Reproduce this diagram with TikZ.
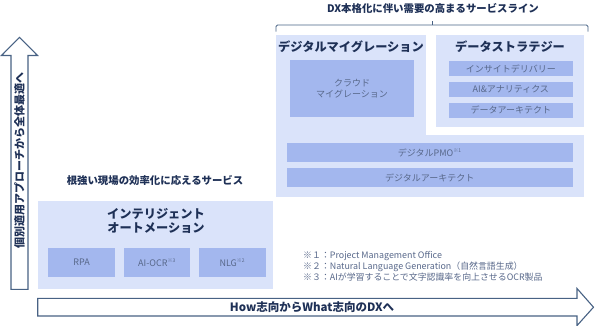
\documentclass[tikz,border=0pt]{standalone}
\usepackage{fontspec}
\setmainfont{Noto Sans CJK JP}
\definecolor{PanelBlue}{RGB}{218,227,250}
\definecolor{BoxBlue}  {RGB}{163,183,238}
\definecolor{NavyText} {RGB}{30,48,86}
\definecolor{GreyText} {RGB}{88,104,138}
\definecolor{ArrowLine}{RGB}{72,98,132}
\usetikzlibrary{positioning}

\begin{document}
\begin{tikzpicture}[x=1pt,y=-1pt,
    panel/.style={fill=PanelBlue,inner sep=0pt,outer sep=0pt,anchor=north west},
    subbox/.style={fill=BoxBlue,inner sep=0pt,outer sep=0pt,anchor=north west,
                   text=GreyText,font=\fontsize{9}{11}\selectfont,align=center},
    heading/.style={text=NavyText,font=\bfseries\fontsize{12.2}{14}\selectfont,align=center},
    caption/.style={text=NavyText,font=\bfseries\fontsize{10.4}{12}\selectfont},
    bigarrow/.style={draw=ArrowLine,fill=white,line width=1.1pt,line join=miter}]
  \useasboundingbox (0,0) rectangle (596,326);
  %% Arrows
  \draw[bigarrow](28,289.3)--(28,55.5)--(37.5,55.5)--(19.5,37.3)--(1.5,55.5)
       --(11,55.5)--(11,289.3)--cycle;
  \draw[bigarrow](37.7,298.3)--(577,298.3)--(577,288.5)--(593.5,307.2)
       --(577,325.6)--(577,316)--(37.7,316)--cycle;
  \node[caption,rotate=90,font=\bfseries\fontsize{11}{13}\selectfont]
       (toparrow) at (19.5,160){個別適用アプローチから全体最適へ};
  \node[caption,font=\bfseries\fontsize{11.5}{13}\selectfont]
       (rightarrow) at (312,307.2){How志向からWhat志向のDXへ};
  %% Intelligent automation (left)
  \node[caption] (fieldlabel) at (155,180.7){根強い現場の効率化に応えるサービス};
  \node[panel,minimum width=235pt,minimum height=88.3pt] (intauto) at (37.7,200.7){};
  \node[heading] (intautolabel) at (156,221){インテリジェント\\オートメーション};
  \node[subbox,minimum width=66.7pt,minimum height=28.4pt] (rpa) at (48.3,248.3){RPA};
  \node[subbox,minimum width=66.7pt,minimum height=28.4pt] (aiocr) at (123.7,248.3)
       {AI-OCR\textsuperscript{\fontsize{5}{5}\selectfont ※3}};
  \node[subbox,minimum width=66.7pt,minimum height=28.4pt] (nlg) at (199,248.3)
       {NLG\textsuperscript{\fontsize{5}{5}\selectfont ※2}};
  %% Service lines (right)
  \node[caption] (title) at (433,8.5){DX本格化に伴い需要の高まるサービスライン};
  \draw[ArrowLine,line width=0.9pt,rounded corners=1.5pt]
       (276,31.7)--(276,25)--(588,25)--(588,31.7);
  \draw[ArrowLine,line width=0.9pt](432.3,25)--(432.3,21.2);
  \node[panel,minimum width=308pt,minimum height=162pt] (migration) at (276,35){};
  \fill[white](426,35) rectangle (584,135);
  \node[panel,minimum width=148.3pt,minimum height=91.7pt] (strategy) at (435.7,35){};
  \node[heading] (migrationlabel) at (351,46.7){デジタルマイグレーション};
  \node[heading] (strategylabel) at (510,46.7){データストラテジー};
  \node[subbox,minimum width=124pt,minimum height=56.7pt] (cloud) at (290,60)
       {クラウド\\マイグレーション};
  \node[subbox,minimum width=123.7pt,minimum height=15pt] (insight) at (449,61)
       {インサイトデリバリー};
  \node[subbox,minimum width=123.7pt,minimum height=15pt] (analytics) at (449,81.7)
       {AI\&アナリティクス};
  \node[subbox,minimum width=123.7pt,minimum height=15pt] (dataarch) at (449,102.7)
       {データアーキテクト};
  \node[subbox,minimum width=286pt,minimum height=18.4pt] (pmo) at (286.7,143.3)
       {デジタルPMO\textsuperscript{\fontsize{5}{5}\selectfont ※1}};
  \node[subbox,minimum width=286pt,minimum height=19pt] (digarch) at (286.7,168.3)
       {デジタルアーキテクト};
  %% Footnotes
  \node[anchor=north west,inner sep=0pt,align=left,text=GreyText,
        font=\fontsize{8.9}{9.2}\selectfont] (notes) at (303,251.5)
       {※１：Project Management Office\\
        ※２：Natural Language Generation（自然言語生成）\\
        ※３：AIが学習することで文字認識率を向上させるOCR製品};
\end{tikzpicture}
\end{document}
